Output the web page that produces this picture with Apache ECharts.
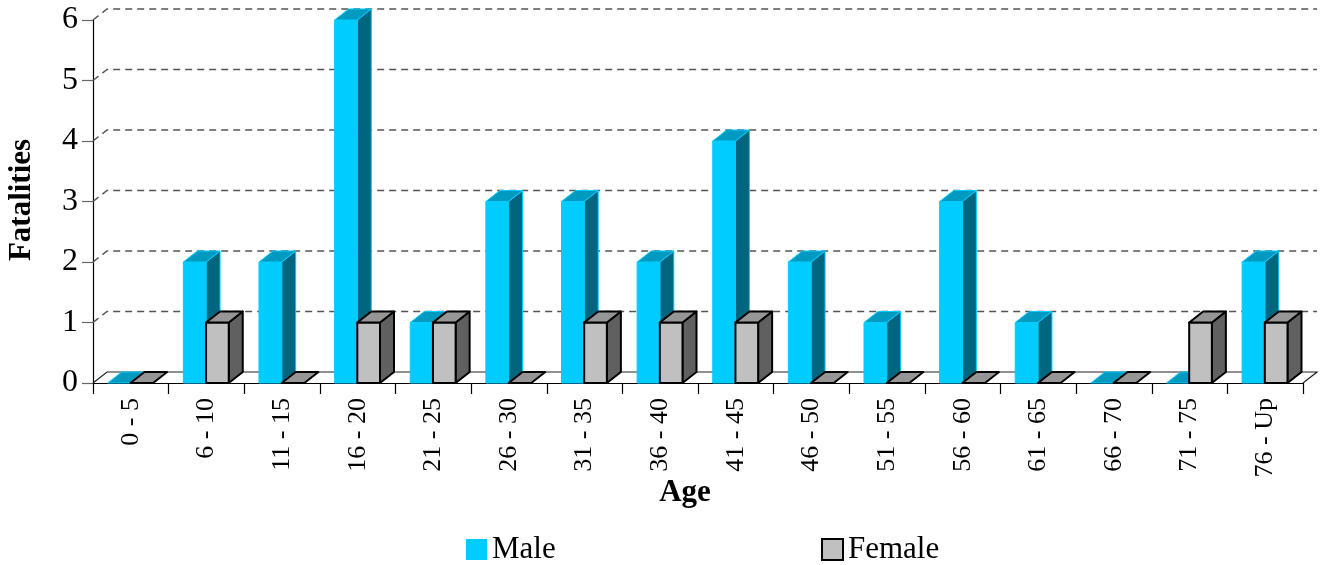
<!DOCTYPE html>
<html>
<head>
<meta charset="utf-8">
<script src="https://cdn.jsdelivr.net/npm/echarts@6/dist/echarts.min.js"></script>
<style>
  html, body { margin: 0; padding: 0; background: #fff; }
  #chart { width: 1327px; height: 565px; }
</style>
</head>
<body>
<div id="chart"></div>
<script>
// Fatalities by age group and sex
const ageGroups = ['0 - 5', '6 - 10', '11 - 15', '16 - 20', '21 - 25', '26 - 30', '31 - 35', '36 - 40',
                   '41 - 45', '46 - 50', '51 - 55', '56 - 60', '61 - 65', '66 - 70', '71 - 75', '76 - Up'];
const maleValues   = [0, 2, 2, 6, 1, 3, 3, 2, 4, 2, 1, 3, 1, 0, 0, 2];
const femaleValues = [0, 1, 0, 1, 1, 0, 1, 1, 1, 0, 0, 0, 0, 0, 1, 1];
const wallLevels   = [0, 1, 2, 3, 4, 5, 6];

// depth of the pseudo-3D box, in pixels
const DX = 14, DY = 11;
const FONT = '"Liberation Serif", "Times New Roman", serif';

const faces = {
  male:   { front: '#00CCFF', side: '#006680', top: '#0099C0', stroke: '#00CCFF', lw: 1 },
  female: { front: '#C0C0C0', side: '#606060', top: '#969696', stroke: '#000000', lw: 2 }
};

function box(kind, slot) {
  const f = faces[kind];
  return function (params, api) {
    const idx = api.value(0), v = api.value(1);
    const base = api.coord([idx, 0]);
    const top = api.coord([idx, v]);
    const band = api.size([1, 0])[0];
    const w = band * 0.3;
    const x0 = base[0] - band / 2 + band * 0.195 + slot * w;
    const x1 = x0 + w;
    const yb = base[1], yt = top[1];
    const style = (fill) => ({ fill: fill, stroke: f.stroke, lineWidth: f.lw, lineJoin: 'round' });
    const children = [];
    if (v > 0) {
      children.push({ type: 'polygon', shape: { points: [[x1, yb], [x1 + DX, yb - DY], [x1 + DX, yt - DY], [x1, yt]] }, style: style(f.side) });
      children.push({ type: 'polygon', shape: { points: [[x0, yb], [x1, yb], [x1, yt], [x0, yt]] }, style: style(f.front) });
    }
    children.push({ type: 'polygon', shape: { points: [[x0, yt], [x1, yt], [x1 + DX, yt - DY], [x0 + DX, yt - DY]] }, style: style(f.top) });
    return { type: 'group', children: children };
  };
}

function wall(params, api) {
  const v = api.value(1);
  const cs = params.coordSys;
  const y = api.coord([0, v])[1];
  const xl = cs.x, xr = cs.x + cs.width;
  if (v === 0) {
    return {
      type: 'polyline',
      shape: { points: [[xl, y], [xl + DX, y - DY], [xr + DX, y - DY], [xr, y]] },
      style: { stroke: '#222', lineWidth: 1.2, fill: null }
    };
  }
  return {
    type: 'polyline',
    shape: { points: [[xl, y], [xl + DX, y - DY], [xr + DX, y - DY]] },
    style: { stroke: '#555', lineWidth: 1.4, lineDash: [7, 5], fill: null }
  };
}

const legendText = { fontFamily: FONT, fontSize: 31, color: '#000', lineHeight: 31 };
const titleFont = 'bold 31px ' + FONT;

const chart = echarts.init(document.getElementById('chart'));
chart.setOption({
  animation: false,
  grid: { left: 93, right: 24, top: 20, bottom: 182, containLabel: false, outerBoundsMode: 'none' },
  graphic: [
    { type: 'text', x: 22, y: 200, rotation: Math.PI / 2,
      style: { text: 'Fatalities', font: titleFont, fill: '#000', align: 'center', verticalAlign: 'middle' } },
    { type: 'text', x: 685, y: 493,
      style: { text: 'Age', font: titleFont, fill: '#000', align: 'center', verticalAlign: 'middle' } }
  ],
  legend: [
    { data: [{ name: 'Male', itemStyle: { color: '#00CCFF', borderWidth: 0 } }],
      left: 466, top: 534, padding: 0, itemWidth: 21, itemHeight: 21, icon: 'rect', textStyle: legendText },
    { data: [{ name: 'Female', itemStyle: { color: '#C0C0C0', borderColor: '#000', borderWidth: 2 } }],
      left: 821, top: 534, padding: 0, itemWidth: 21, itemHeight: 21, icon: 'rect', textStyle: legendText }
  ],
  xAxis: {
    type: 'category',
    data: ageGroups,
    boundaryGap: true,
    axisLine: { lineStyle: { color: '#000', width: 1.2 } },
    axisTick: { show: true, interval: 0, alignWithLabel: false, length: 11, lineStyle: { color: '#000', width: 1.2 } },
    axisLabel: { interval: 0, rotate: 90, margin: 15, fontFamily: FONT, fontSize: 26, color: '#000' },
    splitLine: { show: false }
  },
  yAxis: {
    type: 'value',
    min: 0, max: 6, interval: 1,
    axisLine: { show: true, lineStyle: { color: '#000', width: 1.2 } },
    axisTick: { show: true, length: 11, lineStyle: { color: '#666', width: 1.2 } },
    axisLabel: { margin: 15, fontFamily: FONT, fontSize: 32, color: '#000' },
    splitLine: { show: false }
  },
  series: [
    { type: 'custom', name: 'wall', z: 1, silent: true, renderItem: wall,
      data: wallLevels.map(v => [0, v]), encode: { x: 0, y: 1 } },
    { type: 'custom', name: 'Male', z: 2, renderItem: box('male', 0),
      itemStyle: { color: '#00CCFF' },
      data: maleValues.map((v, i) => [i, v]), encode: { x: 0, y: 1 } },
    { type: 'custom', name: 'Female', z: 3, renderItem: box('female', 1),
      itemStyle: { color: '#C0C0C0' },
      data: femaleValues.map((v, i) => [i, v]), encode: { x: 0, y: 1 } }
  ]
});
</script>
</body>
</html>
